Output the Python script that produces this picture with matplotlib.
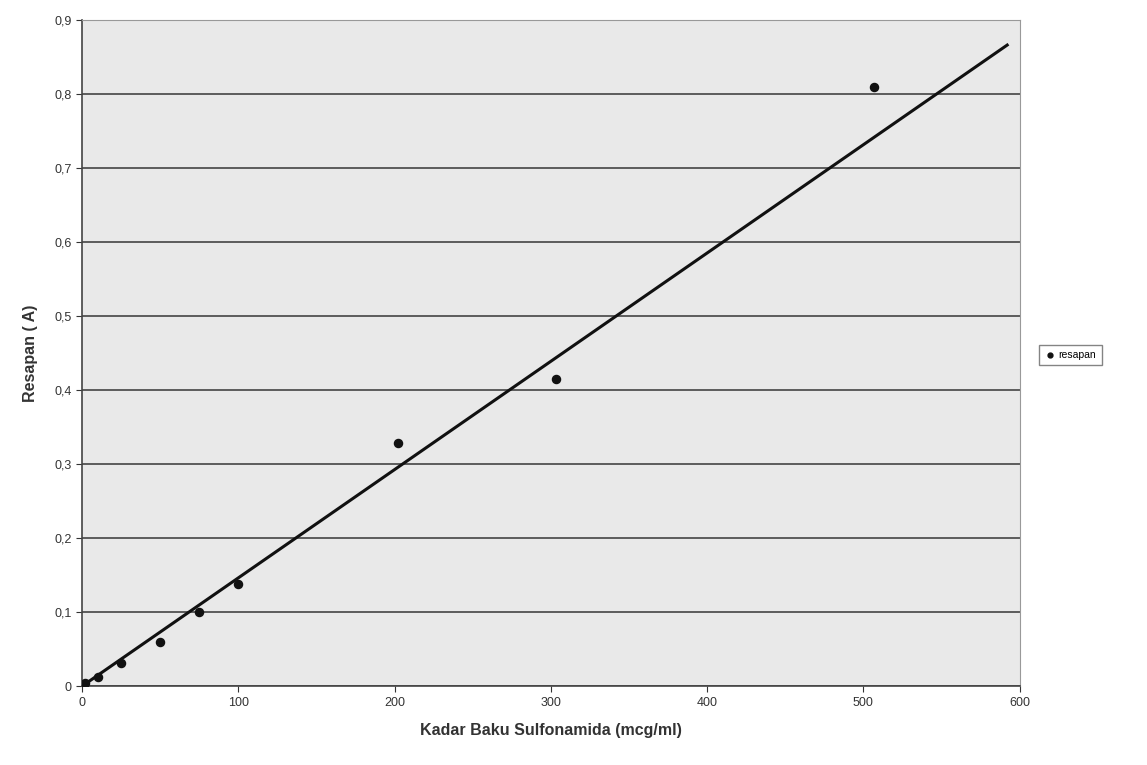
import numpy as np
import matplotlib.pyplot as plt
from matplotlib.ticker import FuncFormatter

# data kurva baku
kadar = [2, 10, 25, 50, 75, 100, 202, 303, 507]
resapan = [0.005, 0.013, 0.032, 0.06, 0.1, 0.138, 0.328, 0.415, 0.81]

# garis trendline (ujung-ujung)
trend_x = [0, 592]
trend_y = [0.0, 0.866]

xticks = [0, 100, 200, 300, 400, 500, 600]
yticks = [0, 0.1, 0.2, 0.3, 0.4, 0.5, 0.6, 0.7, 0.8, 0.9]

plt.rcParams['font.family'] = ['Liberation Sans', 'DejaVu Sans']

fig = plt.figure(figsize=(11.47, 7.65), dpi=100)
ax = fig.add_axes([0.0715, 0.103, 0.8175, 0.871])
ax.set_facecolor('#e9e9e9')

ax.plot(trend_x, trend_y, color='#111111', linewidth=2.2, zorder=3)
ax.scatter(kadar, resapan, s=34, color='#111111', zorder=4, label='resapan')

ax.set_xlim(0, 600)
ax.set_ylim(0, 0.9)
ax.set_xticks(xticks)
ax.set_yticks(yticks)
ax.yaxis.set_major_formatter(FuncFormatter(lambda v, p: ('%g' % round(v, 1)).replace('.', ',')))
ax.tick_params(labelsize=9, colors='#333333', length=4, direction='out')
ax.grid(axis='y', color='#444444', linewidth=1.2)
ax.set_axisbelow(True)

for s in ['left', 'bottom']:
    ax.spines[s].set_color('#444444')
    ax.spines[s].set_linewidth(1.2)
for s in ['top', 'right']:
    ax.spines[s].set_color('#999999')
    ax.spines[s].set_linewidth(0.8)

ax.set_xlabel('Kadar Baku Sulfonamida (mcg/ml)', fontsize=11.5, fontweight='bold', color='#333333', labelpad=10)
ax.set_ylabel('Resapan ( A)', fontsize=11.5, fontweight='bold', color='#333333', labelpad=12)

leg = ax.legend(loc='center left', bbox_to_anchor=(1.015, 0.497), fontsize=7.5, frameon=True,
                fancybox=False, edgecolor='#666666', handletextpad=0.2, markerscale=0.6,
                borderpad=0.5, handlelength=1.2)

plt.savefig('out.png', dpi=100)
